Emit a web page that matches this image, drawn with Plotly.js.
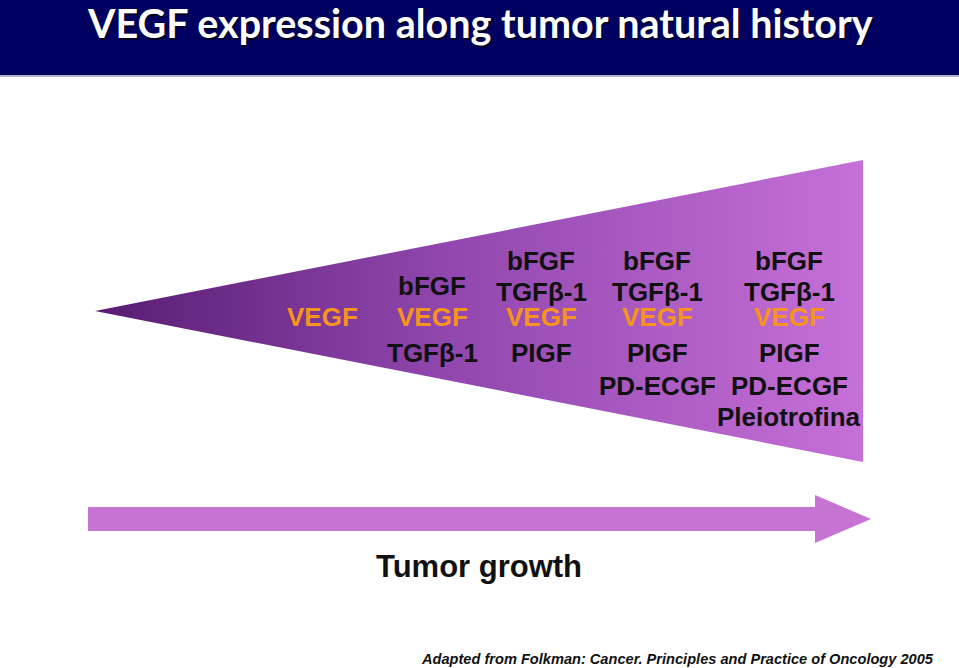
<!DOCTYPE html>
<html><head><meta charset="utf-8">
<script src="https://cdn.plot.ly/plotly-3.0.1.min.js"></script>
<style>html,body{margin:0;padding:0;background:#fff;}#chart{width:959px;height:668px;}</style>
</head><body><div id="chart"></div>
<script>
// ---- data ----
const titleText = 'VEGF expression along tumor natural history';
const stage1 = ['VEGF'];
const stage2 = ['bFGF', 'VEGF', 'TGFβ-1'];
const stage3 = ['bFGF', 'TGFβ-1', 'VEGF', 'PIGF'];
const stage4 = ['bFGF', 'TGFβ-1', 'VEGF', 'PIGF', 'PD-ECGF'];
const stage5 = ['bFGF', 'TGFβ-1', 'VEGF', 'PIGF', 'PD-ECGF', 'Pleiotrofina'];
const highlight = 'VEGF';
const arrowLabel = 'Tumor growth';
const sourceNote = 'Adapted from Folkman: Cancer. Principles and Practice of Oncology 2005';

// ---- layout geometry (pixels) ----
const stages = [stage1, stage2, stage3, stage4, stage5];
const colX = [322, 432, 541, 657, 789];
const rowY = {'bFGF': 261, 'TGFβ-1': 292, 'VEGF': 317, 'PIGF': 353, 'PD-ECGF': 386, 'Pleiotrofina': 417};
const rowYStage2 = {'bFGF': 286, 'VEGF': 317, 'TGFβ-1': 353};
const wedgeX = [95, 863, 863, 95];
const wedgeY = [311, 160, 462, 311];
const arrowX = [88, 815, 815, 871, 815, 815, 88, 88];
const arrowY = [507, 507, 495, 519, 543, 531, 531, 507];

const traces = [
  {x: wedgeX, y: wedgeY, type: 'scatter', mode: 'lines', fill: 'toself', line: {width: 0, color: 'rgba(0,0,0,0)'},
   fillgradient: {type: 'horizontal', colorscale: [[0, '#581C72'], [0.45, '#9046AD'], [1, '#C670D8']]},
   hoverinfo: 'skip', showlegend: false},
  {x: arrowX, y: arrowY, type: 'scatter', mode: 'lines', fill: 'toself', fillcolor: '#C673D4', line: {width: 0, color: 'rgba(0,0,0,0)'},
   hoverinfo: 'skip', showlegend: false}
];

const annotations = [];
stages.forEach((list, i) => {
  list.forEach(name => {
    const y = (i === 1 ? rowYStage2[name] : rowY[name]);
    annotations.push({x: colX[i], y: y, xref: 'x', yref: 'y', text: '<b>' + name + '</b>', showarrow: false,
      xanchor: 'center', yanchor: 'middle', borderpad: 0,
      font: {family: 'Liberation Sans, Arial, sans-serif', size: 26, color: name === highlight ? '#F7941D' : '#111111'}});
  });
});
// title shadow + title
annotations.push({x: 481, y: 24, xref: 'x', yref: 'y', text: '<b>' + titleText + '</b>', showarrow: false, xanchor: 'center', yanchor: 'middle', borderpad: 0,
  font: {family: 'Lato, Open Sans, sans-serif', size: 39.5, color: '#000022'}});
annotations.push({x: 479.5, y: 22.5, xref: 'x', yref: 'y', text: '<b>' + titleText + '</b>', showarrow: false, xanchor: 'center', yanchor: 'middle', borderpad: 0,
  font: {family: 'Lato, Open Sans, sans-serif', size: 39.5, color: '#FFFFFF'}});
annotations.push({x: 479, y: 566, xref: 'x', yref: 'y', text: '<b>' + arrowLabel + '</b>', showarrow: false, xanchor: 'center', yanchor: 'middle',
  font: {family: 'Liberation Sans, Arial, sans-serif', size: 31, color: '#111111'}});
annotations.push({x: 935, y: 659, xref: 'x', yref: 'y', text: '<b><i>' + sourceNote + '</i></b>', showarrow: false, xanchor: 'right', yanchor: 'middle', borderpad: 0,
  font: {family: 'Liberation Sans, Arial, sans-serif', size: 14.6, color: '#111111'}});

const layout = {
  width: 959, height: 668, margin: {l: 0, r: 0, t: 0, b: 0, pad: 0},
  paper_bgcolor: '#FFFFFF', plot_bgcolor: '#FFFFFF', showlegend: false,
  xaxis: {range: [0, 959], visible: false, fixedrange: true},
  yaxis: {range: [668, 0], visible: false, fixedrange: true},
  shapes: [
    {type: 'rect', xref: 'x', yref: 'y', x0: 0, x1: 959, y0: 0, y1: 75, fillcolor: '#000060', line: {width: 0}, layer: 'below'},
    {type: 'line', xref: 'x', yref: 'y', x0: 0, x1: 959, y0: 76, y1: 76, line: {width: 1.5, color: '#9A9AB8'}, layer: 'below'}
  ],
  annotations: annotations
};
Plotly.newPlot('chart', traces, layout, {displayModeBar: false, staticPlot: true});
</script></body></html>
